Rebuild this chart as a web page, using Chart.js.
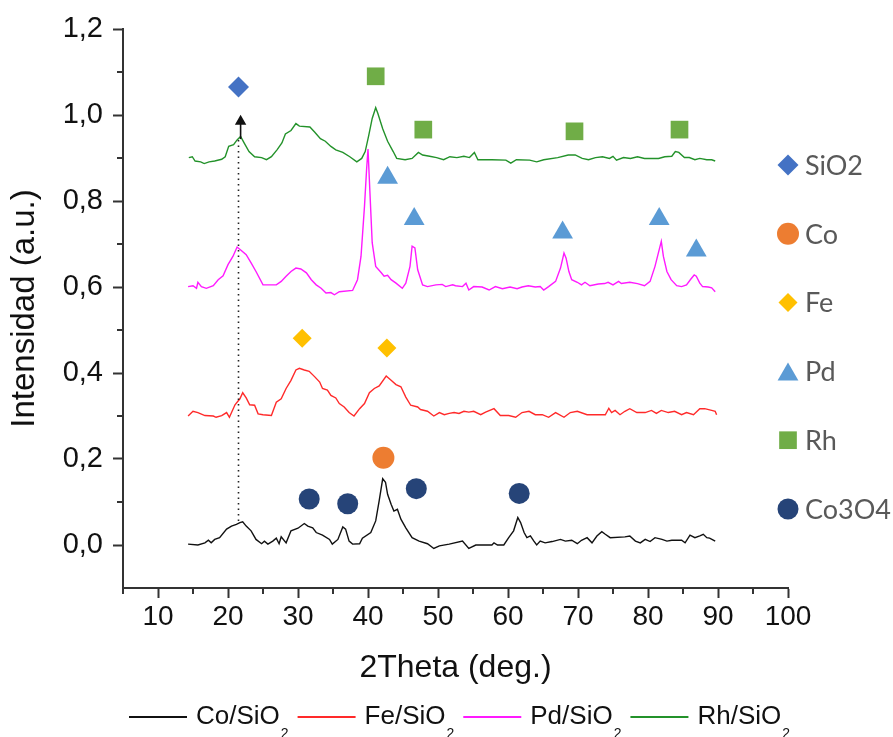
<!DOCTYPE html>
<html lang="es">
<head>
    <meta charset="UTF-8">
    <title>DRX - catalizadores/SiO2</title>
    <script src="https://cdn.jsdelivr.net/npm/chart.js"></script>
    <style>
        html, body { margin: 0; padding: 0; background: #fff; }
        canvas { display: block; }
    </style>
</head>
<body>
<canvas id="xrdChart" width="893" height="737"></canvas>
<script>
const coSiO2 = [[14.3,0.002],[15.7,0.0],[16.7,0.005],[17.2,0.011],[17.6,0.005],[18.1,0.013],[18.8,0.017],[19.8,0.037],[20.5,0.044],[21.2,0.048],[21.7,0.052],[22.1,0.054],[22.6,0.044],[23.3,0.033],[24.0,0.013],[24.8,0.003],[25.2,0.009],[25.7,0.002],[26.4,0.009],[26.9,0.016],[27.3,0.003],[27.6,0.019],[28.3,0.005],[29.0,0.033],[30.0,0.039],[30.9,0.050],[31.4,0.044],[32.1,0.040],[32.6,0.029],[33.5,0.023],[34.5,0.013],[34.9,0.002],[35.7,0.013],[36.4,0.042],[36.8,0.037],[37.3,0.009],[37.8,0.002],[38.8,0.003],[39.2,0.016],[40.4,0.029],[41.1,0.056],[41.6,0.103],[42.1,0.154],[42.5,0.146],[42.8,0.118],[43.3,0.095],[43.7,0.079],[44.2,0.083],[44.7,0.060],[45.4,0.040],[46.3,0.017],[47.3,0.009],[48.5,0.003],[49.4,-0.008],[50.2,-0.002],[51.6,0.002],[53.5,0.009],[54.4,-0.008],[55.4,0.0],[57.7,0.0],[58.0,0.005],[58.5,0.0],[59.4,0.0],[60.1,0.017],[60.8,0.033],[61.4,0.064],[61.8,0.052],[62.3,0.029],[62.7,0.017],[63.2,0.021],[63.7,0.009],[64.1,0.0],[64.6,0.009],[65.3,0.005],[66.3,0.008],[67.5,0.013],[68.2,0.009],[69.1,0.011],[69.9,0.003],[70.5,0.011],[71.3,0.017],[72.0,0.005],[72.7,0.021],[73.4,0.031],[73.9,0.025],[74.6,0.017],[76.7,0.019],[77.4,0.021],[78.2,0.009],[78.9,0.005],[79.6,0.013],[80.3,0.008],[81.0,0.017],[82.0,0.013],[82.7,0.009],[83.4,0.011],[84.8,0.011],[85.3,0.005],[86.0,0.023],[86.7,0.017],[87.4,0.021],[87.9,0.025],[88.4,0.017],[88.8,0.016],[89.6,0.009]]

const feSiO2 = [[14.3,0.300],[15.0,0.311],[15.7,0.308],[16.7,0.301],[17.9,0.300],[18.3,0.297],[19.1,0.301],[19.8,0.308],[20.2,0.297],[21.0,0.326],[21.7,0.340],[22.1,0.354],[22.6,0.342],[23.1,0.326],[23.8,0.325],[24.3,0.305],[25.0,0.303],[26.2,0.301],[26.9,0.332],[27.6,0.340],[28.3,0.364],[29.0,0.383],[29.7,0.407],[30.2,0.411],[30.9,0.407],[31.6,0.404],[32.4,0.391],[33.1,0.379],[33.5,0.364],[34.2,0.360],[34.7,0.348],[35.4,0.342],[35.9,0.329],[36.6,0.321],[37.3,0.308],[38.0,0.300],[38.8,0.317],[39.5,0.329],[40.2,0.354],[40.9,0.364],[41.6,0.370],[42.6,0.393],[43.3,0.383],[44.0,0.373],[44.7,0.368],[45.4,0.344],[46.1,0.325],[47.1,0.321],[47.5,0.315],[48.5,0.311],[49.4,0.300],[50.2,0.308],[50.9,0.303],[51.6,0.306],[52.3,0.308],[53.0,0.306],[53.7,0.311],[54.4,0.309],[55.1,0.311],[56.1,0.303],[56.8,0.309],[58.0,0.317],[58.9,0.301],[60.1,0.301],[61.1,0.297],[62.0,0.308],[63.0,0.311],[63.9,0.303],[64.9,0.303],[65.8,0.297],[66.8,0.308],[68.0,0.297],[68.9,0.308],[69.9,0.311],[71.3,0.303],[73.9,0.303],[74.4,0.318],[74.8,0.308],[75.3,0.313],[76.0,0.303],[76.7,0.311],[77.4,0.317],[78.4,0.308],[79.6,0.308],[80.5,0.313],[81.2,0.306],[81.9,0.313],[82.9,0.308],[83.8,0.311],[84.8,0.303],[85.5,0.308],[86.5,0.303],[87.4,0.317],[88.1,0.317],[89.1,0.313],[89.6,0.311],[89.8,0.303]]

const pdSiO2 = [[14.3,0.601],[15.0,0.603],[15.5,0.597],[15.7,0.611],[16.2,0.601],[16.9,0.597],[17.9,0.603],[18.6,0.617],[19.3,0.626],[20.0,0.652],[20.7,0.671],[21.3,0.693],[21.9,0.685],[22.6,0.675],[23.3,0.656],[24.0,0.636],[25.0,0.605],[26.9,0.605],[27.6,0.613],[28.3,0.625],[29.0,0.636],[29.7,0.644],[30.4,0.642],[31.2,0.633],[31.9,0.617],[32.6,0.605],[33.3,0.597],[34.0,0.586],[34.7,0.587],[35.2,0.582],[35.9,0.589],[37.8,0.592],[38.5,0.617],[39.0,0.671],[39.5,0.788],[39.8,0.874],[40.0,0.921],[40.3,0.811],[40.6,0.703],[41.1,0.648],[41.9,0.633],[42.3,0.625],[42.8,0.627],[43.3,0.617],[44.0,0.609],[44.9,0.597],[45.4,0.609],[46.0,0.648],[46.3,0.695],[46.7,0.691],[47.1,0.640],[47.8,0.605],[48.5,0.601],[49.7,0.605],[50.6,0.606],[51.1,0.601],[52.1,0.605],[52.5,0.603],[53.5,0.601],[54.0,0.609],[54.4,0.593],[55.1,0.601],[56.3,0.600],[57.3,0.593],[58.2,0.601],[59.2,0.596],[60.3,0.600],[61.3,0.596],[62.0,0.600],[62.9,0.603],[63.9,0.600],[64.6,0.601],[65.1,0.593],[65.8,0.601],[66.8,0.613],[67.5,0.644],[68.0,0.679],[68.3,0.667],[68.7,0.636],[69.1,0.617],[69.9,0.611],[70.5,0.605],[71.0,0.611],[71.7,0.603],[72.9,0.607],[73.8,0.608],[74.3,0.611],[75.0,0.605],[75.8,0.613],[76.2,0.608],[77.4,0.611],[78.5,0.608],[79.5,0.603],[80.3,0.613],[81.0,0.648],[81.6,0.687],[81.9,0.706],[82.2,0.671],[82.7,0.636],[83.3,0.617],[84.1,0.603],[84.8,0.601],[85.5,0.605],[86.1,0.618],[86.6,0.628],[86.9,0.625],[87.4,0.609],[87.8,0.601],[88.6,0.600],[89.1,0.598],[89.6,0.589]]

const rhSiO2 = [[14.4,0.901],[14.9,0.903],[15.3,0.893],[16.1,0.891],[16.6,0.887],[17.3,0.891],[18.1,0.893],[19.1,0.897],[19.6,0.903],[20.1,0.927],[20.8,0.931],[21.3,0.942],[21.8,0.950],[22.3,0.935],[23.0,0.915],[23.8,0.903],[24.8,0.901],[25.5,0.896],[26.2,0.903],[27.0,0.919],[27.7,0.935],[28.2,0.956],[29.0,0.964],[29.7,0.980],[30.2,0.974],[31.7,0.972],[32.4,0.960],[33.2,0.945],[33.9,0.939],[34.7,0.927],[35.4,0.919],[36.4,0.913],[37.4,0.903],[38.4,0.891],[39.1,0.899],[39.6,0.915],[40.1,0.952],[40.6,0.992],[41.1,1.017],[41.4,1.004],[42.1,0.968],[42.8,0.939],[43.6,0.915],[44.1,0.899],[45.3,0.896],[46.3,0.899],[47.2,0.913],[47.8,0.907],[48.8,0.904],[49.8,0.901],[50.8,0.896],[51.7,0.903],[52.7,0.901],[53.7,0.904],[54.5,0.901],[55.2,0.913],[55.7,0.896],[57.7,0.896],[59.7,0.895],[60.4,0.888],[61.2,0.896],[63.1,0.895],[64.1,0.891],[65.1,0.896],[67.1,0.901],[68.6,0.907],[69.6,0.907],[70.6,0.899],[71.5,0.896],[72.5,0.901],[73.5,0.903],[74.5,0.899],[75.0,0.904],[75.5,0.895],[76.5,0.901],[77.5,0.899],[78.5,0.903],[79.5,0.899],[81.5,0.899],[82.4,0.903],[83.4,0.904],[83.9,0.915],[84.4,0.913],[85.2,0.901],[85.9,0.901],[86.7,0.896],[87.4,0.899],[88.4,0.896],[89.1,0.896],[89.6,0.893]]

// Fases identificadas: posicion del simbolo sobre cada pico
const siO2Peaks = [[21.5,1.065]]
const coPeaks = [[42.2,0.203]]
const fePeaks = [[30.6,0.481],[42.7,0.458]]
const pdPeaks = [[42.8,0.854],[46.6,0.758],[67.8,0.727],[81.6,0.758],[86.9,0.685]]
const rhPeaks = [[41.1,1.090],[47.9,0.966],[69.5,0.962],[84.5,0.966]]
const co3o4Peaks = [[31.6,0.107],[37.1,0.096],[46.9,0.131],[61.6,0.120]]

// Guia punteada del pico de SiO2 y su flecha
const guideLine = [[21.5,0.056],[21.5,0.944]]
const guideArrow = [[21.8,0.944],[21.8,0.985]]

const xTicks = [10, 20, 30, 40, 50, 60, 70, 80, 90, 100]
const xMinorTicks = [5, 15, 25, 35, 45, 55, 65, 75, 85, 95]
const yTicks = [0, 0.2, 0.4, 0.6, 0.8, 1.0, 1.2]
const yMinorTicks = [0.1, 0.3, 0.5, 0.7, 0.9, 1.1]

const toXY = arr => arr.map(p => ({ x: p[0], y: p[1] }))

const AXIS_COLOR = "#333"
const TICK_FONT = "Liberation Sans, Arial, sans-serif"

function patternDataset(label, data, color) {
    return {
        label: label,
        data: toXY(data),
        showLine: true,
        borderColor: color,
        borderWidth: 1.4,
        pointRadius: 0,
        tension: 0,
        order: 3
    }
}

function markerDataset(label, data, color, style, radius) {
    return {
        label: label,
        data: toXY(data),
        showLine: false,
        pointStyle: style,
        pointRadius: radius,
        pointHoverRadius: radius,
        backgroundColor: color,
        borderColor: color,
        borderWidth: 0,
        phase: true,
        order: 1
    }
}

const patterns = [
    patternDataset("Co/SiO2", coSiO2, "#111111"),
    patternDataset("Fe/SiO2", feSiO2, "#ff2a2a"),
    patternDataset("Pd/SiO2", pdSiO2, "#ff1aff"),
    patternDataset("Rh/SiO2", rhSiO2, "#23922a")
]

const phases = [
    markerDataset("SiO2", siO2Peaks, "#4472c4", "rectRot", 10.5),
    markerDataset("Co", coPeaks, "#ed7d31", "circle", 11),
    markerDataset("Fe", fePeaks, "#ffc000", "rectRot", 9.5),
    markerDataset("Pd", pdPeaks, "#5b9bd5", "triangle", 12),
    markerDataset("Rh", rhPeaks, "#70ad47", "rect", 12.5),
    markerDataset("Co3O4", co3o4Peaks, "#264478", "circle", 10.5)
]

const guides = [
    {
        label: "guia",
        data: toXY(guideLine),
        showLine: true,
        borderColor: "#222",
        borderWidth: 1.6,
        borderDash: [1.5, 4],
        pointRadius: 0,
        order: 2
    },
    {
        label: "flecha",
        data: toXY(guideArrow),
        showLine: true,
        borderColor: "#111",
        borderWidth: 1.6,
        pointRadius: [0, 5],
        pointStyle: "triangle",
        backgroundColor: "#111",
        borderDash: [],
        order: 2
    }
]

// Marcas menores de los ejes (no las dibuja Chart.js)
const minorTicksPlugin = {
    id: "minorTicks",
    afterDraw(chart) {
        const { ctx, chartArea, scales: { x, y } } = chart
        ctx.save()
        ctx.strokeStyle = AXIS_COLOR
        ctx.lineWidth = 2
        xMinorTicks.forEach(v => {
            const px = Math.round(x.getPixelForValue(v))
            ctx.beginPath()
            ctx.moveTo(px, chartArea.bottom)
            ctx.lineTo(px, chartArea.bottom + 6)
            ctx.stroke()
        })
        yMinorTicks.forEach(v => {
            const py = Math.round(y.getPixelForValue(v))
            ctx.beginPath()
            ctx.moveTo(chartArea.left, py)
            ctx.lineTo(chartArea.left - 6, py)
            ctx.stroke()
        })
        ctx.restore()
    }
}

function drawMarker(ctx, style, radius, color, x, y) {
    ctx.fillStyle = color
    ctx.strokeStyle = color
    ctx.lineWidth = 0
    Chart.helpers.drawPoint(ctx, { pointStyle: style, radius: radius, rotation: 0, borderWidth: 0 }, x, y)
}

// Leyenda de fases a la derecha y leyenda de muestras abajo
const legendsPlugin = {
    id: "xrdLegends",
    afterDraw(chart) {
        const { ctx, chartArea } = chart
        ctx.save()

        // Fases
        ctx.font = "27px Lato, sans-serif"
        ctx.textBaseline = "middle"
        ctx.textAlign = "left"
        phases.forEach((ds, i) => {
            const cy = 165 + i * 68.8
            const cx = chartArea.right
            const dy = ds.pointStyle === "triangle" ? 3 : 0
            drawMarker(ctx, ds.pointStyle, ds.pointRadius, ds.backgroundColor, cx, cy + dy)
            ctx.fillStyle = "#595959"
            ctx.fillText(ds.label, cx + 17, cy + 1)
        })

        // Muestras
        const mainFont = "26px Liberation Sans, Arial, sans-serif"
        const subFont = "14px Liberation Sans, Arial, sans-serif"
        let px = chartArea.left + 6
        const ly = 717
        patterns.forEach(ds => {
            ctx.strokeStyle = ds.borderColor
            ctx.lineWidth = 2
            ctx.beginPath()
            ctx.moveTo(px, ly)
            ctx.lineTo(px + 58, ly)
            ctx.stroke()
            px += 67
            const base = ds.label.slice(0, -1)
            ctx.font = mainFont
            ctx.fillStyle = "#111"
            ctx.textBaseline = "middle"
            ctx.fillText(base, px, ly)
            px += ctx.measureText(base).width + 1
            ctx.font = subFont
            ctx.fillText("2", px, ly + 17)
            px += ctx.measureText("2").width + 9
        })
        ctx.restore()
    }
}

new Chart(document.getElementById("xrdChart"), {
    type: "scatter",
    data: { datasets: [...patterns, ...guides, ...phases] },
    options: {
        responsive: false,
        animation: false,
        devicePixelRatio: 1,
        layout: { padding: { top: 29, right: 105, bottom: 50, left: 0 } },
        plugins: {
            legend: { display: false },
            tooltip: { enabled: false }
        },
        scales: {
            x: {
                type: "linear",
                min: 5,
                max: 100,
                afterBuildTicks: s => { s.ticks = xTicks.map(v => ({ value: v })) },
                afterFit: s => { s.height = 99 },
                grid: { drawOnChartArea: false, drawTicks: true, tickLength: 10, tickColor: AXIS_COLOR, tickWidth: 2 },
                border: { display: true, color: AXIS_COLOR, width: 2 },
                ticks: {
                    color: "#111",
                    padding: 2,
                    maxRotation: 0,
                    font: { family: TICK_FONT, size: 28 }
                },
                title: {
                    display: true,
                    text: "2Theta (deg.)",
                    color: "#111",
                    font: { family: TICK_FONT, size: 32 },
                    padding: { top: 0, bottom: 0 }
                }
            },
            y: {
                type: "linear",
                min: -0.1,
                max: 1.2,
                afterBuildTicks: s => { s.ticks = yTicks.map(v => ({ value: v })) },
                afterFit: s => { s.width = 123 },
                grid: { drawOnChartArea: false, drawTicks: true, tickLength: 10, tickColor: AXIS_COLOR, tickWidth: 2 },
                border: { display: true, color: AXIS_COLOR, width: 2 },
                ticks: {
                    color: "#111",
                    padding: 10,
                    font: { family: TICK_FONT, size: 29 },
                    callback: v => v.toFixed(1).replace(".", ",")
                },
                title: {
                    display: true,
                    text: "Intensidad (a.u.)",
                    color: "#111",
                    font: { family: TICK_FONT, size: 33 },
                    padding: { top: 5, bottom: 0 }
                }
            }
        }
    },
    plugins: [minorTicksPlugin, legendsPlugin]
})
</script>
</body>
</html>
